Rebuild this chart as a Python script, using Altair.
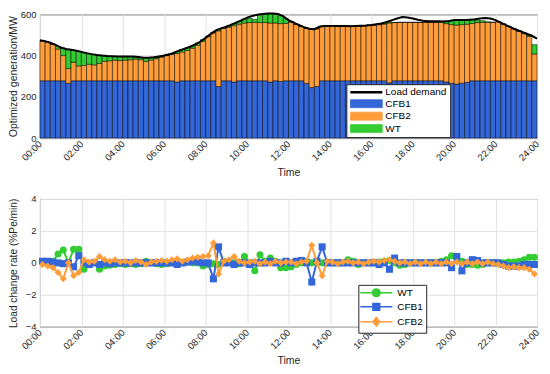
import altair as alt
import pandas as pd

FONT = "Liberation Sans"
INK = "#262626"

# ---------------- data ----------------
STEP_H = 0.25          # 15-minute dispatch interval
N_BARS = 96

# load demand, 00:00 ... 24:00 every 15 min (97 points)
LOAD_DEMAND = [
    475, 470, 462, 452, 440, 432, 428, 424,
    418, 412, 407, 403, 400, 398, 397, 396,
    396, 396, 395, 393, 389, 390, 392, 396,
    400, 406, 415, 425, 434, 443, 454, 468,
    486, 505, 522, 532, 540, 550, 561, 572,
    584, 592, 598, 602, 604, 604, 602, 590,
    572, 560, 548, 538, 530, 528, 540, 544,
    544, 544, 543, 543, 542, 544, 545, 546,
    548, 552, 556, 563, 572, 580, 587, 585,
    580, 574, 569, 567, 567, 566, 565, 568,
    572, 572, 572, 574, 576, 580, 582, 580,
    572, 560, 548, 537, 525, 516, 506, 496,
    482,
]

CFB1_MW = [
    278, 278, 278, 278, 278, 266, 278, 278,
    278, 278, 278, 278, 278, 278, 278, 278,
    278, 278, 278, 278, 278, 278, 278, 278,
    278, 278, 272, 278, 278, 278, 278, 278,
    278, 278, 250, 278, 278, 272, 278, 278,
    278, 278, 278, 278, 272, 278, 275, 278,
    278, 278, 278, 265, 245, 250, 278, 278,
    278, 278, 278, 278, 278, 278, 278, 278,
    278, 278, 278, 268, 278, 278, 278, 278,
    278, 278, 278, 278, 278, 278, 272, 266,
    262, 266, 270, 278, 278, 278, 278, 278,
    278, 278, 278, 278, 278, 278, 278, 278,
]

CFB2_MW = [
    192, 186, 177, 154, 122, 71, 90, 72,
    74, 80, 77, 84, 94, 97, 100, 98,
    100, 102, 105, 102, 94, 100, 107, 115,
    122, 127, 138, 140, 147, 158, 172, 192,
    214, 232, 270, 254, 260, 273, 274, 280,
    282, 283, 282, 282, 286, 280, 280, 278,
    284, 274, 263, 267, 282, 280, 264, 265,
    266, 266, 265, 264, 265, 266, 267, 269,
    270, 272, 275, 290, 282, 283, 283, 283,
    283, 283, 283, 283, 283, 283, 283, 284,
    286, 284, 282, 278, 282, 283, 283, 283,
    286, 275, 263, 252, 240, 228, 215, 130,
]

WT_MW = [
    0, 0, 0, 12, 36, 93, 58, 71,
    63, 52, 50, 39, 27, 22, 18, 20,
    18, 15, 11, 11, 17, 13, 9, 5,
    3, 5, 10, 12, 13, 12, 11, 7,
    3, 3, 7, 4, 7, 10, 14, 20,
    20, 15, 40, 42, 44, 44, 40, 22,
    4, 0, 0, 0, 0, 0, 0, 0,
    0, 0, 0, 0, 0, 0, 0, 0,
    2, 4, 7, 6, 0, 0, 0, 0,
    0, 0, 0, 0, 0, 3, 10, 20,
    22, 22, 20, 18, 12, 8, 3, 0,
    0, 0, 0, 0, 2, 4, 7, 45,
]

# load change rate (%Pe/min), one value per 15-min interval
RATE_WT = [
    0.0, 0.05, 0.1, 0.55, 0.8, 0.0, 0.85, 0.85,
    -0.4, -0.1, 0.0, -0.4, -0.2, -0.15, -0.1, -0.05,
    -0.1, -0.05, -0.1, -0.05, 0.1, 0.0, -0.05, -0.1,
    -0.05, 0.0, 0.05, 0.0, 0.05, 0.0, 0.0, -0.2,
    -0.1, -0.05, -0.1, 0.1, 0.05, 0.0, -0.05, 0.4,
    0.0, -0.5, 0.5, 0.1, 0.3, 0.1, -0.3, -0.3,
    -0.25, -0.1, 0.0, 0.1, 0.0, 0.0, 0.0, 0.0,
    0.0, 0.0, 0.0, 0.2, 0.1, -0.1, 0.0, 0.0,
    0.0, 0.05, 0.1, 0.15, 0.0, -0.15, -0.1, 0.0,
    0.0, 0.0, 0.0, 0.0, 0.0, 0.1, 0.2, 0.45,
    0.4, 0.1, -0.1, -0.1, -0.15, -0.1, 0.0, 0.0,
    0.0, 0.0, 0.05, 0.05, 0.1, 0.2, 0.35, 0.35,
]
RATE_CFB1 = [
    0.1, 0.1, 0.05, 0.0, -0.05, 0.0, -0.25, 0.45,
    0.0, -0.1, 0.0, -0.1, 0.0, -0.05, 0.0, 0.0,
    0.0, 0.0, 0.0, 0.0, 0.0, 0.0, 0.0, 0.0,
    0.0, 0.0, -0.1, 0.0, 0.05, 0.1, 0.05, 0.0,
    0.0, -1.0, 1.0, 0.0, 0.0, -0.1, 0.0, 0.0,
    -0.1, 0.0, 0.0, 0.0, 0.1, 0.0, 0.0, 0.1,
    0.0, 0.1, 0.15, 0.0, -1.2, 0.1, 1.0, 0.0,
    0.0, 0.0, 0.0, 0.0, 0.0, 0.0, 0.0, 0.0,
    0.0, -0.1, 0.0, -0.4, 0.3, 0.0, 0.0, 0.0,
    0.0, 0.0, 0.0, 0.0, 0.0, 0.0, 0.0, -0.3,
    0.4, -0.5, 0.0, 0.2, 0.15, 0.0, 0.0, 0.0,
    0.0, -0.1, -0.2, -0.2, -0.2, -0.1, -0.1, -0.1,
]
RATE_CFB2 = [
    -0.1, -0.2, -0.3, -0.6, -1.0, 0.0, -0.8, -0.6,
    0.2, 0.05, 0.1, 0.4, 0.2, 0.1, 0.2, 0.05,
    0.1, 0.0, 0.15, 0.05, -0.1, 0.05, 0.1, 0.15,
    0.1, 0.2, 0.25, 0.1, 0.2, 0.3, 0.35, 0.4,
    0.45, 1.25, -0.7, 0.1, 0.2, 0.4, 0.1, 0.0,
    0.05, 0.1, -0.05, 0.05, -0.05, 0.1, 0.0, 0.05,
    0.05, -0.05, 0.05, 0.1, 1.1, 0.0, -0.8, 0.1,
    0.05, -0.05, 0.05, 0.1, 0.0, 0.05, -0.05, 0.05,
    0.1, 0.05, 0.15, 0.2, 0.1, 0.0, 0.05, -0.05,
    0.05, -0.05, 0.05, -0.05, 0.05, -0.05, 0.05, -0.05,
    0.05, -0.05, 0.05, -0.05, 0.05, -0.05, 0.05, -0.05,
    -0.1, -0.2, -0.3, -0.25, -0.3, -0.3, -0.4, -0.7,
]

TICK_HOURS = [0, 2, 4, 6, 8, 10, 12, 14, 16, 18, 20, 22, 24]
GEN_TICKS = [0, 200, 400, 600]
RATE_TICKS = [-4, -2, 0, 2, 4]

SERIES_TOP = ["Load demand", "CFB1", "CFB2", "WT"]
COLORS_TOP = ["#000000", "#3366d9", "#ff9d3a", "#33cc33"]
SERIES_BOT = ["WT", "CFB1", "CFB2"]
COLORS_BOT = ["#33cc33", "#3366d9", "#ff9d3a"]
SHAPES_BOT = ["circle", "square", "diamond"]

# ---------------- tables ----------------
rows = []
for i in range(N_BARS):
    t0 = i * STEP_H
    base = 0
    for name, vals in (("CFB1", CFB1_MW), ("CFB2", CFB2_MW), ("WT", WT_MW)):
        rows.append({"series": name, "t0": t0, "t1": t0 + STEP_H,
                     "lo": base, "hi": base + vals[i]})
        base += vals[i]
bars_df = pd.DataFrame(rows)

load_df = pd.DataFrame({"t": [i * STEP_H for i in range(len(LOAD_DEMAND))],
                        "load": LOAD_DEMAND, "series": "Load demand"})

rate_rows = []
for name, vals in (("WT", RATE_WT), ("CFB1", RATE_CFB1), ("CFB2", RATE_CFB2)):
    for i, v in enumerate(vals):
        rate_rows.append({"series": name, "t": (i + 0.5) * STEP_H, "rate": v})
rates_df = pd.DataFrame(rate_rows)

# ---------------- shared pieces ----------------
W = 498
x_scale = alt.Scale(domain=[0, 24], nice=False, zero=False)
LABEL_EXPR = "(datum.value < 10 ? '0' : '') + datum.value + ':00'"


def x_axis():
    return alt.Axis(values=TICK_HOURS, labelExpr=LABEL_EXPR, labelAngle=-45,
                    labelAlign="right", labelBaseline="middle", labelPadding=4,
                    labelOverlap=False, labelFlush=False, labelFontSize=9.5,
                    title="Time", titleFontSize=10.5, titlePadding=5,
                    grid=True, ticks=False, domain=False)


def y_axis(values, title, title_size):
    return alt.Axis(values=values, title=title, grid=True, ticks=False, domain=False,
                    labelPadding=4, labelFontSize=9.5, titleFontSize=title_size,
                    titlePadding=1, minExtent=20, maxExtent=20)


def pick(names, values, default):
    expr = default
    for n, v in reversed(list(zip(names, values))):
        expr = f"datum.value === '{n}' ? {v} : ({expr})"
    return expr


# ---------------- top panel ----------------
top_shapes = ["'M-4,0H4'", "'M-4,-1H4V1H-4Z'", "'M-4,-1H4V1H-4Z'", "'M-4,-1H4V1H-4Z'"]
legend_top = alt.Legend(
    title=None, orient="none", legendX=307, legendY=70,
    symbolType=alt.ExprRef(expr=pick(SERIES_TOP, top_shapes, "'square'")),
    symbolStrokeWidth=alt.ExprRef(expr="datum.value === 'Load demand' ? 2.5 : 0.7"),
    symbolStrokeColor="black", symbolSize=64, symbolOffset=12, labelOffset=14,
    padding=3, rowPadding=0.5, strokeColor=INK, fillColor="white",
    labelFontSize=10, cornerRadius=0, symbolOpacity=1,
)

bars = alt.Chart(bars_df).mark_bar(stroke="black", strokeWidth=0.5).encode(
    x=alt.X("t0:Q", scale=x_scale, axis=x_axis()),
    x2="t1:Q",
    y=alt.Y("lo:Q", scale=alt.Scale(domain=[0, 600], nice=False),
            axis=y_axis(GEN_TICKS, "Optimized generation/MW", 10.5)),
    y2="hi:Q",
    color=alt.Color("series:N", scale=alt.Scale(domain=SERIES_TOP, range=COLORS_TOP),
                    legend=legend_top),
)
load_line = alt.Chart(load_df).mark_line(strokeWidth=2).encode(
    x=alt.X("t:Q", scale=x_scale),
    y=alt.Y("load:Q"),
    color=alt.Color("series:N"),
)
top = alt.layer(bars, load_line).properties(width=W, height=124)

# ---------------- bottom panel ----------------
P_LINE = "M-4,0H4"
bot_shapes = [
    f"'{P_LINE}M-0.95,0A0.95,0.95 0 1,1 0.95,0A0.95,0.95 0 1,1 -0.95,0Z'",
    f"'{P_LINE}M-0.85,-0.85H0.85V0.85H-0.85Z'",
    f"'{P_LINE}M0,-1.1L0.85,0L0,1.1L-0.85,0Z'",
]
bot_colors = [f"'{c}'" for c in COLORS_BOT]
legend_bot = alt.Legend(
    title=None, orient="none", legendX=319, legendY=86,
    symbolType=alt.ExprRef(expr=pick(SERIES_BOT, bot_shapes, "'circle'")),
    symbolFillColor=alt.ExprRef(expr=pick(SERIES_BOT, bot_colors, "'black'")),
    symbolStrokeColor=alt.ExprRef(expr=pick(SERIES_BOT, bot_colors, "'black'")),
    symbolStrokeWidth=1.5, symbolSize=64, symbolOffset=10, labelOffset=16,
    padding=3, rowPadding=0, strokeColor=INK, fillColor="white",
    labelFontSize=10, cornerRadius=0, symbolOpacity=1,
)

rate_x = alt.X("t:Q", scale=x_scale, axis=x_axis())
rate_y = alt.Y("rate:Q", scale=alt.Scale(domain=[-4, 4], nice=False),
               axis=y_axis(RATE_TICKS, "Load change rate (%Pe/min)", 10.2))
rate_color_scale = alt.Scale(domain=SERIES_BOT, range=COLORS_BOT)


def rate_layers(name, shape):
    base = alt.Chart(rates_df).transform_filter(alt.datum.series == name)
    line = base.mark_line(strokeWidth=2).encode(
        x=rate_x, y=rate_y,
        color=alt.Color("series:N", scale=rate_color_scale, legend=legend_bot),
    )
    pts = base.mark_point(filled=True, size=50, opacity=1, shape=shape).encode(
        x=rate_x, y=rate_y,
        color=alt.Color("series:N", scale=rate_color_scale, legend=None),
    )
    return [line, pts]


bot_layers = []
for s, shp in zip(SERIES_BOT, SHAPES_BOT):
    bot_layers += rate_layers(s, shp)
bottom = alt.layer(*bot_layers).properties(width=W, height=128)

chart = (
    alt.vconcat(top, bottom, spacing=15)
    .resolve_scale(color="independent")
    .properties(padding={"left": 0, "top": 0, "right": 0, "bottom": 0})
    .configure_view(stroke=INK, strokeWidth=1)
    .configure_axis(labelFont=FONT, titleFont=FONT, labelColor=INK, titleColor=INK,
                    titleFontWeight="normal", gridColor="#e3e3e3", gridWidth=1)
    .configure_legend(labelFont=FONT, labelColor="#000000")
)

chart.save("out.html", embed_options={"renderer": "svg", "actions": False})
